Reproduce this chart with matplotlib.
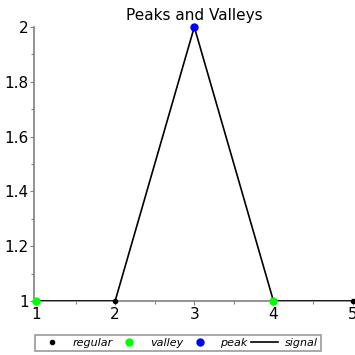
import matplotlib
matplotlib.use("Agg")
import matplotlib.pyplot as plt
from matplotlib.ticker import MultipleLocator

# data
x = [1, 2, 3, 4, 5]
signal = [1, 1, 2, 1, 1]
regular_x = [2, 5]
regular_y = [1, 1]
valley_x = [1, 4]
valley_y = [1, 1]
peak_x = [3]
peak_y = [2]

fig = plt.figure(figsize=(3.55, 3.55), dpi=100)
ax = fig.add_axes([34/355, (355-301)/355, 321/355, 274/355])

ax.plot(x, signal, color='black', lw=1.2, label='signal', zorder=3)
ax.plot(regular_x, regular_y, 'o', color='black', ms=3, label='regular', zorder=4, clip_on=False)
ax.plot(valley_x, valley_y, 'o', color='#00ff00', ms=5, label='valley', zorder=4, clip_on=False)
ax.plot(peak_x, peak_y, 'o', color='#0000ff', ms=5, label='peak', zorder=4, clip_on=False)

ax.set_xlim(0.975, 5.03)
ax.set_ylim(1, 2)
ax.xaxis.set_major_locator(MultipleLocator(1))
ax.xaxis.set_minor_locator(MultipleLocator(0.5))
ax.yaxis.set_major_locator(MultipleLocator(0.2))
ax.yaxis.set_minor_locator(MultipleLocator(0.1))
ax.yaxis.set_major_formatter(plt.FuncFormatter(lambda v, p: ('%g' % v)))

for s in ['top', 'right']:
    ax.spines[s].set_visible(False)
for s in ['left', 'bottom']:
    ax.spines[s].set_color('gray')
    ax.spines[s].set_linewidth(1.2)
ax.tick_params(which='major', length=3, width=0.8, color='gray', labelsize=11, pad=1)
ax.tick_params(which='minor', length=2, width=0.8, color='gray')

ax.set_title('Peaks and Valleys', fontsize=11, pad=5)

h, l = ax.get_legend_handles_labels()
order = [1, 2, 3, 0]
leg = fig.legend([h[i] for i in order], [l[i] for i in order], ncol=4,
                 loc='center', bbox_to_anchor=(178/355, 1 - 343/355),
                 prop={'style': 'italic', 'size': 8}, frameon=True, fancybox=False,
                 edgecolor='gray', handlelength=2.5, columnspacing=0.25,
                 handletextpad=0.6, borderpad=0.25, borderaxespad=0)
leg.get_frame().set_linewidth(1.2)

fig.savefig('out.png', dpi=100)
